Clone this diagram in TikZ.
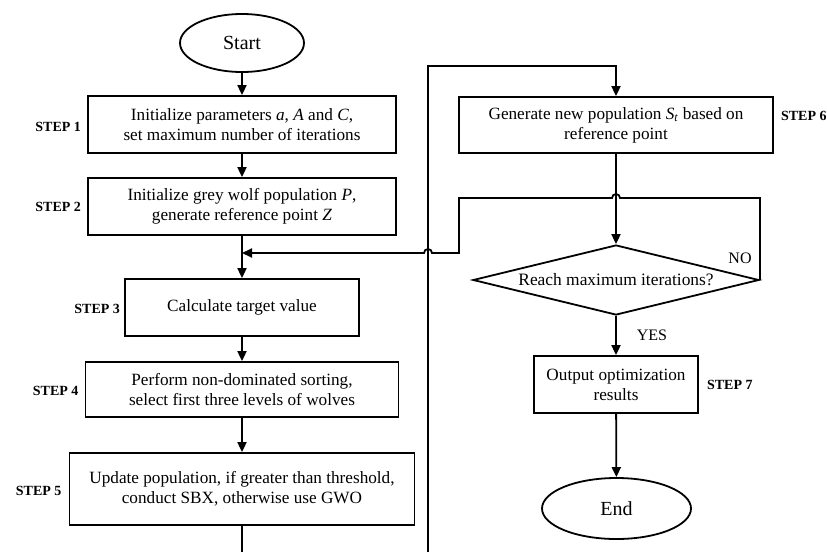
\documentclass[tikz,border=0pt]{standalone}
\usepackage{fontspec}
\setmainfont{Liberation Serif}
\usetikzlibrary{shapes.geometric,arrows.meta}
\tikzset{
  box/.style={draw,line width=1.8pt,rectangle,inner sep=0pt,align=center,font=\fontsize{17.2}{20}\selectfont},
  term/.style={draw,line width=1.8pt,ellipse,inner sep=0pt,font=\fontsize{20}{22}\selectfont},
  dec/.style={draw,line width=1.8pt,diamond,aspect=4,inner sep=0pt,font=\fontsize{17.4}{20}\selectfont},
  steplab/.style={font=\bfseries\fontsize{14}{16}\selectfont,inner sep=0pt},
  lab/.style={font=\fontsize{16}{18}\selectfont,inner sep=0pt},
  ln/.style={line width=1.8pt},
  arr/.style={line width=1.8pt,-{Triangle[length=10pt,width=9pt]}}
}
\begin{document}
\begin{tikzpicture}[x=1pt,y=-1pt]
\useasboundingbox (0,0) rectangle (827,552);
% nodes
\node[term,minimum width=124pt,minimum height=58pt] (start) at (242,43) {Start};
\node[box,minimum width=308pt,minimum height=57pt] (b1) at (242,124.5) {Initialize parameters \textit{a}, \textit{A} and \textit{C},\\set maximum number of iterations};
\node[box,minimum width=308pt,minimum height=57pt] (b2) at (242,206.5) {Initialize grey wolf population \textit{P},\\generate reference point \textit{Z}};
\node[box,minimum width=234pt,minimum height=57pt] (b3) at (242,307.5) {Calculate target value};
\node[box,minimum width=313pt,minimum height=55pt] (b4) at (242,389.5) {Perform non-dominated sorting,\\select first three levels of wolves};
\node[box,minimum width=345pt,minimum height=72pt] (b5) at (242,489) {Update population, if greater than threshold,\\conduct SBX, otherwise use GWO};
\node[box,minimum width=314pt,minimum height=56pt] (b6) at (616,125) {Generate new population \textit{S}\textsubscript{\textit{t}} based on\\reference point};
\node[dec,minimum width=286pt,minimum height=70pt] (dia) at (616,280) {Reach maximum iterations?};
\node[box,minimum width=164pt,minimum height=57pt] (b7) at (616,384.5) {Output optimization\\results};
\node[term,minimum width=149pt,minimum height=61pt] (end) at (616.5,508.5) {End};
% step labels
\node[steplab,anchor=east] (s1) at ([xshift=-6pt,yshift=-2pt]b1.west) {STEP 1};
\node[steplab,anchor=east] (s2) at ([xshift=-6pt]b2.west) {STEP 2};
\node[steplab,anchor=east] (s3) at ([xshift=-4pt,yshift=-1pt]b3.west) {STEP 3};
\node[steplab,anchor=east] (s4) at ([xshift=-6pt,yshift=-1pt]b4.west) {STEP 4};
\node[steplab,anchor=east] (s5) at ([xshift=-7pt,yshift=-2pt]b5.west) {STEP 5};
\node[steplab,anchor=west] (s6) at ([xshift=7pt,yshift=9pt]b6.east) {STEP 6};
\node[steplab,anchor=west] (s7) at ([xshift=8pt]b7.east) {STEP 7};
\node[lab] (no) at (740,258) {NO};
\node[lab] (yes) at (652,335) {YES};
% coordinates
\coordinate (c5) at (242,552);
\coordinate (lb) at (428,552);
\coordinate (lt) at (428,66);
\coordinate (join) at (242,253);
% connectors
\draw[arr] (start) -- (b1);
\draw[arr] (b1) -- (b2);
\draw[arr] (b2) -- (b3);
\draw[arr] (b3) -- (b4);
\draw[arr] (b4) -- (b5);
\draw[ln] (b5) -- (c5);
\draw[arr] (lb) -- (lt) -| (b6.north);
\draw[arr] (b6) -- (dia.north);
\draw[arr] (b7) -- (end);
\draw[arr] (dia.south) -- (b7.north);
\draw[arr] (dia.east) -- (dia.east |- 0,198) -- (620,198) arc[start angle=0,end angle=180,radius=4pt] -- (459,198) -- (459,253) -- (432,253) arc[start angle=0,end angle=180,radius=4pt] -- (join);
\end{tikzpicture}
\end{document}
